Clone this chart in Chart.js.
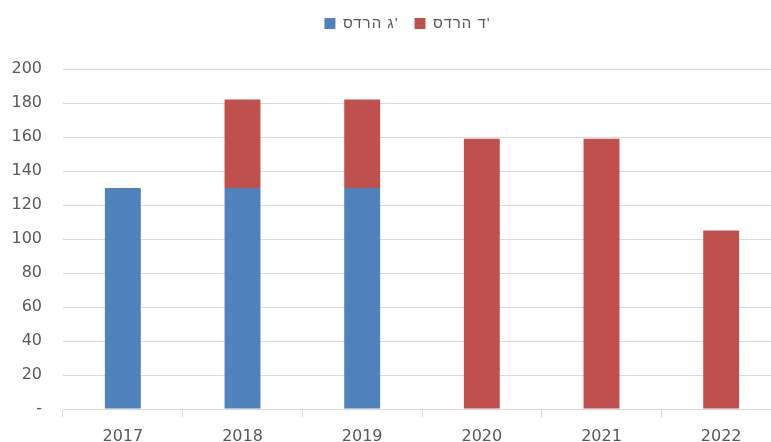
<!DOCTYPE html>
<html>
<head>
<meta charset="utf-8">
<script src="https://cdn.jsdelivr.net/npm/chart.js@4"></script>
<style>
html,body{margin:0;padding:0;background:#fff;overflow:hidden;width:771px;height:442px;}
#wrap{width:781px;height:442px;}
</style>
</head>
<body>
<div id="wrap"><canvas id="c" width="781" height="442"></canvas></div>
<script>
const categories = ['2017', '2018', '2019', '2020', '2021', '2022'];
const seriesGName = "סדרה ג'";
const seriesDName = "סדרה ד'";
const seriesG = [130, 130, 130, 0, 0, 0];
const seriesD = [0, 52, 52, 159, 159, 105];
const yTickLabels = ['-', '20', '40', '60', '80', '100', '120', '140', '160', '180', '200'];

const LRO = '\u202D', PDF = '\u202C';
const font = 'DejaVu Sans';

const legendTweak = {
  id: 'legendTweak',
  beforeInit(chart) {
    const lg = chart.legend;
    const f = lg.fit, d = lg.draw;
    lg.fit = function () {
      const ctx = this.ctx; ctx.save(); ctx.letterSpacing = '1px';
      f.call(this);
      ctx.restore();
      this.height = 69;
    };
    lg.draw = function () {
      const ctx = this.ctx; ctx.save(); ctx.letterSpacing = '1px'; ctx.translate(17, 0);
      d.call(this);
      ctx.restore();
    };
  }
};

new Chart(document.getElementById('c'), {
  type: 'bar',
  data: {
    labels: categories,
    datasets: [
      { label: LRO + seriesGName + PDF, data: seriesG, backgroundColor: '#4F81BD', barPercentage: 0.3, categoryPercentage: 1 },
      { label: LRO + seriesDName + PDF, data: seriesD, backgroundColor: '#C0504D', barPercentage: 0.3, categoryPercentage: 1 }
    ]
  },
  options: {
    responsive: false,
    animation: false,
    layout: { padding: { left: 0, right: 0, top: 0, bottom: 0 } },
    plugins: {
      legend: {
        position: 'top',
        labels: {
          boxWidth: 11, boxHeight: 11, padding: 16,
          color: '#595959',
          font: { family: 'Liberation Sans', size: 15 }
        }
      },
      tooltip: { enabled: false }
    },
    scales: {
      x: {
        stacked: true,
        grid: { display: true, drawOnChartArea: false, drawTicks: true, tickLength: 8, color: '#d9d9d9', offset: true },
        border: { display: true, color: '#d9d9d9' },
        ticks: { color: '#595959', font: { family: font, size: 16 }, padding: 10, maxRotation: 0 },
        afterFit(s) { s.height = 33; }
      },
      y: {
        stacked: true,
        min: 0, max: 200,
        ticks: {
          stepSize: 20, color: '#595959', font: { family: font, size: 16 }, padding: 21,
          callback: (v) => yTickLabels[Math.round(v / 20)]
        },
        grid: { color: '#d9d9d9', drawTicks: false },
        border: { display: false },
        afterFit(s) { s.width = 63; }
      }
    }
  },
  plugins: [legendTweak]
});
</script>
</body>
</html>
